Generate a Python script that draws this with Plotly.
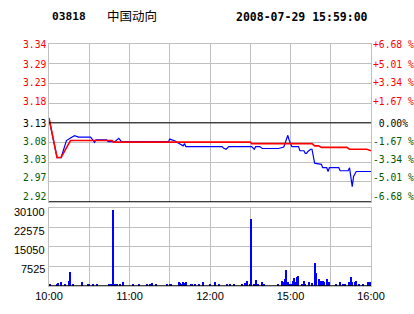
import plotly.graph_objects as go

# ---------------- data ----------------
code = "03818"
name = "中国动向"
stamp = "2008-07-29 15:59:00"
prev_close = 3.13

# minute index since 10:00 (continuous trading minutes, lunch removed)
price_minute = [0, 6, 9, 11, 13, 16, 19, 22, 31, 34, 35, 43, 44, 49, 52, 54, 89, 90, 94, 96,
                100, 101, 102, 129, 130, 132, 134, 151, 153, 154, 157, 159, 171, 175, 178, 179,
                180, 181, 186, 187, 190, 191, 192, 193, 195, 196, 198, 203, 204, 207, 208, 209,
                216, 217, 223, 224, 226, 227, 229, 240]
price = [3.141, 3.038, 3.038, 3.060, 3.083, 3.090, 3.096, 3.092, 3.092, 3.078, 3.085, 3.085,
         3.080, 3.080, 3.089, 3.080, 3.080, 3.087, 3.082, 3.077, 3.069, 3.075, 3.067, 3.067,
         3.063, 3.060, 3.067, 3.067, 3.060, 3.067, 3.067, 3.062, 3.062, 3.066, 3.097, 3.084,
         3.075, 3.067, 3.067, 3.056, 3.056, 3.049, 3.049, 3.054, 3.060, 3.060, 3.023, 3.020,
         3.011, 3.011, 3.001, 3.011, 3.011, 3.003, 3.003, 3.011, 2.961, 2.988, 3.001, 3.001]

avg_minute = [0, 6, 9, 16, 47, 48, 150, 151, 196, 198, 201, 203, 222, 224, 237, 240]
avg_price = [3.143, 3.038, 3.038, 3.083, 3.083, 3.079, 3.079, 3.075, 3.075, 3.069, 3.069,
             3.065, 3.065, 3.060, 3.060, 3.056]

vol_minute = [1, 6, 7, 9, 12, 15, 16, 18, 25, 29, 30, 33, 36, 45, 46, 48, 49, 51, 53, 55,
              63, 67, 73, 75, 77, 80, 88, 90, 91, 97, 98, 99, 100, 101, 102, 106, 107, 109,
              112, 115, 120, 124, 127, 133, 135, 138, 144, 146, 148, 150, 151, 153, 154, 156,
              159, 160, 171, 174, 175, 176, 177, 178, 180, 181, 182, 183, 184, 185, 186, 189,
              190, 191, 194, 196, 198, 199, 201, 202, 203, 204, 205, 207, 208, 209, 214, 217,
              219, 221, 224, 225, 226, 228, 229, 231, 234, 238, 239]
volume = [880, 880, 1140, 1400, 880, 2130, 5600, 880, 1750, 880, 880, 880, 880, 880, 880,
          29500, 880, 880, 880, 1400, 880, 880, 880, 880, 1140, 880, 880, 880, 880, 1400,
          1140, 880, 1400, 1140, 1400, 880, 880, 880, 880, 1400, 880, 1400, 880, 880, 880,
          880, 880, 1140, 2130, 880, 26000, 880, 2400, 880, 1400, 880, 880, 2130, 1400, 2900,
          6200, 1400, 880, 880, 1900, 3160, 1650, 3650, 3920, 880, 1900, 880, 1400, 1140,
          9000, 5200, 2900, 1900, 2130, 2130, 1400, 2900, 1650, 1400, 880, 1400, 880, 880,
          1400, 3650, 1650, 1400, 2130, 880, 880, 1650, 1650]

pct_steps = [4, 3, 2, 1, 0, -1, -2, -3, -4]
pct_unit = 1.67
left_labels = ["3.34", "3.29", "3.23", "3.18", "3.13", "3.08", "3.03", "2.97", "2.92"]
right_labels = ["+6.68 %", "+5.01 %", "+3.34 %", "+1.67 %", " 0.00%", "-1.67 %", "-3.34 %",
                "-5.01 %", "-6.68 %"]
vol_ticks = [7525, 15050, 22575, 30100]
vol_labels = ["7525", "15050", "22575", "30100"]
x_ticks = [0, 30, 60, 90, 120, 150, 180, 210, 240]
x_labels = ["10:00", "", "11:00", "", "12:00", "", "15:00", "", "16:00"]

# ---------------- layout constants (pixels) ----------------
RED = "#FF0000"
GREEN = "#005A00"
BLUE = "#0000FF"
GRID = "#C0C0C0"

W, H = 414, 314
L, R, T, B = 49, 43, 44, 26
PW, PH = W - L - R, H - T - B
price_label_y = [45, 64.3, 83.3, 102.3, 124.3, 142.3, 160.8, 179.0, 197.3]
vol_label_y = [270.8, 251.3, 232.6, 213.3]


def px(xp):
    return (xp - L) / PW


def py(yp):
    return (H - B - yp) / PH


levels = [prev_close * (1 + s * pct_unit / 100) for s in pct_steps]
ymin, ymax = min(levels), max(levels)

fig = go.Figure()
fig.add_trace(go.Bar(x=vol_minute, y=volume, width=0.9, marker=dict(color=BLUE, line=dict(width=0)),
                     xaxis="x2", yaxis="y2", showlegend=False))
fig.add_trace(go.Scatter(x=price_minute, y=price, mode="lines", line=dict(color=BLUE, width=1.2),
                         xaxis="x", yaxis="y", showlegend=False))
fig.add_trace(go.Scatter(x=avg_minute, y=avg_price, mode="lines", line=dict(color=RED, width=1.6),
                         xaxis="x", yaxis="y", showlegend=False))

axis_common = dict(showgrid=True, gridcolor=GRID, gridwidth=1, zeroline=False, showline=True,
                   linecolor=GRID, linewidth=1, mirror=True, ticks="")

fig.update_layout(
    width=W, height=H, autosize=False,
    margin=dict(l=L, r=R, t=T, b=B, pad=0),
    paper_bgcolor="white", plot_bgcolor="white",
    bargap=0,
    xaxis=dict(domain=[0, 1], anchor="y", range=[0, 240], tickvals=x_ticks,
               showticklabels=False, **axis_common),
    yaxis=dict(domain=[py(203), 1], anchor="x", range=[ymin, ymax], tickvals=levels,
               showticklabels=False, **axis_common),
    xaxis2=dict(domain=[0, 1], anchor="y2", range=[0, 240], tickvals=x_ticks, ticktext=x_labels,
                tickfont=dict(family="Liberation Sans", size=11, color="black"), **axis_common),
    yaxis2=dict(domain=[0, py(209.3)], anchor="x2", range=[0, 30100], tickvals=vol_ticks,
                showticklabels=False, **axis_common),
)

shapes = [
    dict(type="line", xref="x", yref="y", x0=0, x1=240, y0=prev_close, y1=prev_close,
         line=dict(color="black", width=1)),
    dict(type="line", xref="x", yref="y", x0=0, x1=240, y0=ymin, y1=ymin,
         line=dict(color="black", width=1.5)),
    dict(type="line", xref="x2", yref="y2", x0=0, x1=240, y0=0, y1=0,
         line=dict(color="black", width=1.5)),
]
fig.update_layout(shapes=shapes)

ann = []
mono = "DejaVu Sans Mono"
for s, yp, lt, rt in zip(pct_steps, price_label_y, left_labels, right_labels):
    col = RED if s > 0 else ("black" if s == 0 else GREEN)
    ann.append(dict(text=lt, xref="paper", yref="paper", x=px(47.5), y=py(yp), xanchor="right",
                    yanchor="middle", showarrow=False,
                    font=dict(family=mono, size=9.7, color=col)))
    ann.append(dict(text=rt.replace(" ", "&nbsp;"), xref="paper", yref="paper", x=px(370.5),
                    y=py(yp), xanchor="left", yanchor="middle", showarrow=False,
                    font=dict(family=mono, size=9.7, color=col)))
for yp, t in zip(vol_label_y, vol_labels):
    ann.append(dict(text=t, xref="paper", yref="paper", x=px(47), y=py(yp), xanchor="right",
                    yanchor="middle", showarrow=False,
                    font=dict(family="Liberation Sans", size=11, color="black")))

ann.append(dict(text="<b>" + code + "</b>", xref="paper", yref="paper", x=px(50), y=py(16.5),
                xanchor="left", yanchor="middle", showarrow=False,
                font=dict(family=mono, size=11.2, color="black")))
ann.append(dict(text=name, xref="paper", yref="paper", x=px(105), y=py(15.5),
                xanchor="left", yanchor="middle", showarrow=False,
                font=dict(family="Noto Sans CJK SC", size=12.5, color="black")))
ann.append(dict(text="<b>" + stamp + "</b>", xref="paper", yref="paper", x=px(370), y=py(16.5),
                xanchor="right", yanchor="middle", showarrow=False,
                font=dict(family=mono, size=11.5, color="black")))
fig.update_layout(annotations=ann)

fig.write_html("out.html")
